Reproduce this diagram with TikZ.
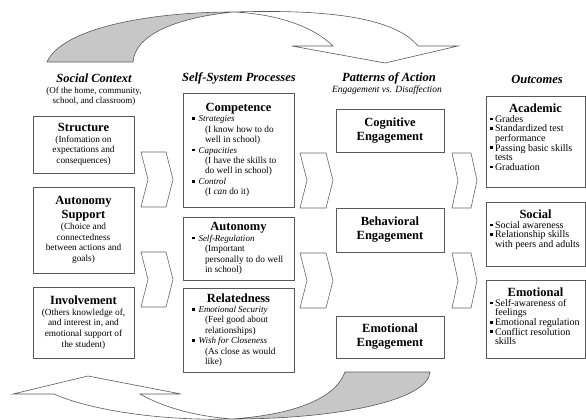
\documentclass[tikz,border=0pt]{standalone}
\usepackage{fontspec}
\setmainfont{Liberation Serif}
\newcommand\ttl[1]{{\fontsize{12.5}{14}\selectfont\bfseries #1\par}}
\newcommand\bdyA{\fontsize{9.3}{10.7}\selectfont}
\newcommand\bdyB{\fontsize{9.3}{10.4}\selectfont}
\newcommand\bdyD{\fontsize{10}{9.6}\selectfont}
\newcommand\sqb{\rule[1.8pt]{2.8pt}{2.8pt}}
\newcommand\itm[2]{{\raggedright\leftskip=14pt\noindent\llap{\sqb\hspace{3.5pt}}{\fontsize{9}{10.4}\selectfont\itshape #1}\par}{\raggedright\leftskip=20.5pt\noindent #2\par}}
\newcommand\pnt[1]{{\raggedright\leftskip=9pt\noindent\llap{\sqb\hspace{2.5pt}}#1\par}}
\tikzset{
  box/.style={draw=black!65, line width=0.8pt, fill=white, inner sep=0pt},
  chev/.style={draw=black!60, line width=0.6pt, fill=white},
  ribbon/.style={draw=black!65, line width=0.6pt, fill=white},
  ribbong/.style={ribbon, fill=black!22},
  coltitle/.style={font=\fontsize{12.5}{14}\selectfont\bfseries\itshape, inner sep=0pt},
  colsub/.style={font=\fontsize{9}{10}\selectfont, align=center, inner sep=0pt},
  pics/chevr/.style args={#1/#2}{code={
    \draw[chev] (0,0) -- (#1-#2,0) -- (#1,27.5) -- (#1-#2,55) -- (0,55) -- (#2,27.5) -- cycle;}}
}
\begin{document}
\begin{tikzpicture}[x=1pt,y=-1pt]
\useasboundingbox (0,0) rectangle (586,420);

% ---- top ribbon arrow ----
\coordinate (tapex) at (233,12);
\coordinate (tgl) at (47,62);
\coordinate (tgr) at (133,62);
\coordinate (tri) at (418,46);
\coordinate (trb) at (458,46);
\coordinate (ttip) at (385,63);
\coordinate (tlb) at (292,46);
\coordinate (tli) at (333,46);
\draw[ribbong] (tgl) .. controls (62,28) and (150,12) .. (tapex)
   .. controls (175,18) and (135,35) .. (tgr) -- cycle;
\draw[ribbon] (tapex) .. controls (330,9) and (395,18) .. (tri) -- (trb) -- (ttip) -- (tlb) -- (tli)
   .. controls (315,28) and (280,14) .. (tapex);

% ---- bottom ribbon arrow ----
\coordinate (bapex) at (232,419);
\coordinate (bgl) at (345,372);
\coordinate (bgr) at (430,372);
\coordinate (bli) at (54,394);
\coordinate (btip) at (13,394);
\coordinate (btop) at (88,376);
\coordinate (brb) at (181,394);
\coordinate (bri) at (140,394);
\draw[ribbon] (bapex) .. controls (160,421) and (90,410) .. (bli) -- (btip) -- (btop) -- (brb) -- (bri)
   .. controls (165,408) and (195,416) .. (bapex);
\draw[ribbong] (bgl) -- (bgr) .. controls (428,400) and (340,419) .. (bapex)
   .. controls (290,415) and (335,400) .. (bgl);

% ---- column titles ----
\node[coltitle] (t1) at (94,78) {Social Context};
\node[colsub] (s1) at (94,96.5) {(Of the home, community,\\school, and classroom)};
\node[coltitle] (t2) at (239,78) {Self-System Processes};
\node[coltitle] (t3) at (389,78) {Patterns of Action};
\node[inner sep=0pt, font=\fontsize{9.5}{10}\selectfont\itshape] (s3) at (387,90) {Engagement vs. Disaffection};
\node[coltitle] (t4) at (537,79) {Outcomes};

% ---- column 1 ----
\node[box, minimum width=101pt, minimum height=57pt] (structure) at (83.5,144.5)
 {\begin{minipage}{97pt}\centering\ttl{Structure}\bdyA (Infomation on\\expectations and\\consequences)\end{minipage}};
\node[box, minimum width=101pt, minimum height=86pt] (autsup) at (83.5,230)
 {\begin{minipage}{97pt}\centering\ttl{Autonomy\\Support}\bdyA (Choice and\\connectedness\\between actions and\\goals)\end{minipage}};
\node[box, minimum width=101pt, minimum height=71pt] (involve) at (83.5,322.5)
 {\begin{minipage}{97pt}\centering\ttl{Involvement}\bdyA (Others knowledge of,\\and interest in, and\\emotional support of\\the student)\end{minipage}};

% ---- column 2 ----
\node[box, minimum width=111pt, minimum height=114pt] (compet) at (238.5,150)
 {\begin{minipage}{108pt}\centering\ttl{Competence}\bdyB
  \itm{Strategies}{(I know how to do\\well in school)}
  \itm{Capacities}{(I have the skills to\\do well in school)}
  \itm{Control}{(I \emph{can} do it)}\end{minipage}};
\node[box, minimum width=111pt, minimum height=63pt] (auton) at (238.5,248.5)
 {\begin{minipage}{108pt}\centering\ttl{Autonomy}\bdyB
  \itm{Self-Regulation}{(Important\\personally to do well\\in school)}\end{minipage}};
\node[box, minimum width=111pt, minimum height=84pt] (related) at (238.5,330)
 {\begin{minipage}{108pt}\centering\ttl{Relatedness}\bdyB
  \itm{Emotional Security}{(Feel good about\\relationships)}
  \itm{Wish for Closeness}{(As close as would\\like)}\end{minipage}};

% ---- column 3 ----
\node[box, minimum width=108pt, minimum height=43pt] (cogn) at (390,130.5)
 {\begin{minipage}{104pt}\centering\ttl{Cognitive\\Engagement}\end{minipage}};
\node[box, minimum width=108pt, minimum height=44pt] (behav) at (390,230)
 {\begin{minipage}{104pt}\centering\ttl{Behavioral\\Engagement}\end{minipage}};
\node[box, minimum width=108pt, minimum height=42pt] (emoeng) at (390,337)
 {\begin{minipage}{104pt}\centering\ttl{Emotional\\Engagement}\end{minipage}};

% ---- column 4 ----
\node[box, minimum width=97pt, minimum height=91pt] (acad) at (535.5,141.5)
 {\begin{minipage}[c][75pt][t]{99pt}\centering\ttl{Academic}\bdyD
  \pnt{Grades}\pnt{Standardized test\\performance}\pnt{Passing basic skills\\tests}\pnt{Graduation}\end{minipage}};
\node[box, minimum width=97pt, minimum height=64pt] (social) at (535.5,234)
 {\begin{minipage}[c][48pt][t]{99pt}\centering\ttl{Social}\bdyD
  \pnt{Social awareness}\pnt{Relationship skills\\with peers and adults}\end{minipage}};
\node[box, minimum width=97pt, minimum height=78pt] (emot) at (535.5,319)
 {\begin{minipage}[c][62pt][t]{99pt}\centering\ttl{Emotional}\bdyD
  \pnt{Self-awareness of\\feelings}\pnt{Emotional regulation}\pnt{Conflict resolution\\skills}\end{minipage}};

% ---- chevrons ----
\pic at (141,152) {chevr=32/7};
\pic at (141,252) {chevr=32/7};
\pic at (300,153) {chevr=33/7};
\pic at (300,253) {chevr=33/7};
\pic at (452,153) {chevr=25/6};
\pic at (452,253) {chevr=25/6};
\end{tikzpicture}
\end{document}
